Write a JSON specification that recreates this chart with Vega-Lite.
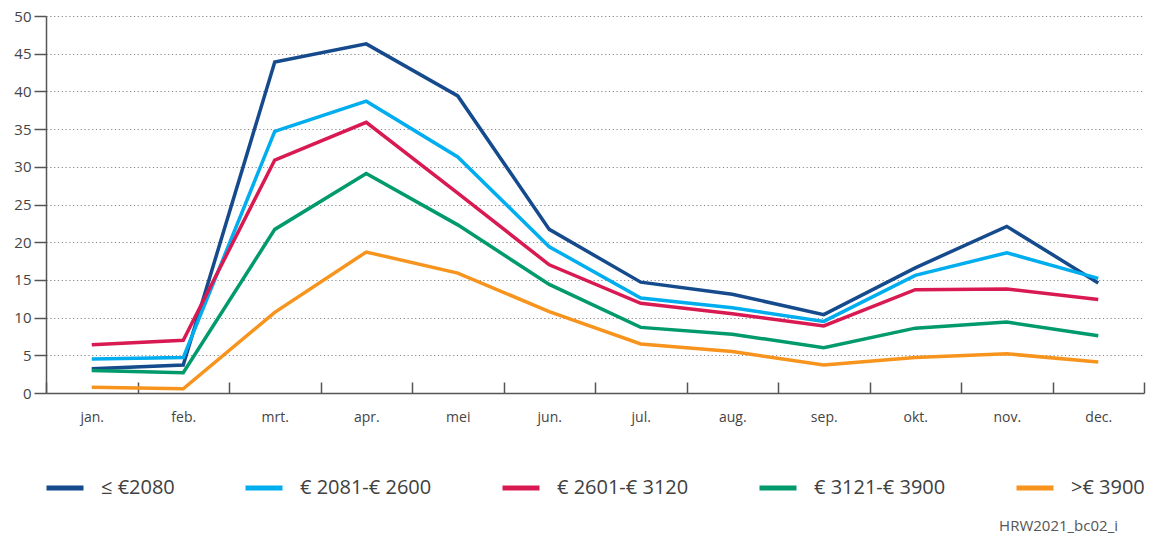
{
  "$schema": "https://vega.github.io/schema/vega-lite/v6.json",
  "width": 1098,
  "height": 377,
  "autosize": {"type": "none"},
  "padding": {"left": 46, "top": 16, "right": 7, "bottom": 143},
  "background": "white",
  "config": {
    "view": {"stroke": null},
    "font": "Open Sans"
  },
  "title": {
    "text": "HRW2021_bc02_i",
    "orient": "bottom",
    "anchor": "end",
    "frame": "group",
    "fontSize": 15,
    "fontWeight": "normal",
    "color": "#555555",
    "offset": 21,
    "dx": -26
  },
  "data": {
    "values": [
      {"maand": "jan.", "groep": "≤ €2080", "waarde": 3.2},
      {"maand": "feb.", "groep": "≤ €2080", "waarde": 3.7},
      {"maand": "mrt.", "groep": "≤ €2080", "waarde": 43.9},
      {"maand": "apr.", "groep": "≤ €2080", "waarde": 46.3},
      {"maand": "mei", "groep": "≤ €2080", "waarde": 39.4},
      {"maand": "jun.", "groep": "≤ €2080", "waarde": 21.7},
      {"maand": "jul.", "groep": "≤ €2080", "waarde": 14.7},
      {"maand": "aug.", "groep": "≤ €2080", "waarde": 13.1},
      {"maand": "sep.", "groep": "≤ €2080", "waarde": 10.4},
      {"maand": "okt.", "groep": "≤ €2080", "waarde": 16.6},
      {"maand": "nov.", "groep": "≤ €2080", "waarde": 22.1},
      {"maand": "dec.", "groep": "≤ €2080", "waarde": 14.6},

      {"maand": "jan.", "groep": "€ 2081-€ 2600", "waarde": 4.5},
      {"maand": "feb.", "groep": "€ 2081-€ 2600", "waarde": 4.7},
      {"maand": "mrt.", "groep": "€ 2081-€ 2600", "waarde": 34.7},
      {"maand": "apr.", "groep": "€ 2081-€ 2600", "waarde": 38.7},
      {"maand": "mei", "groep": "€ 2081-€ 2600", "waarde": 31.3},
      {"maand": "jun.", "groep": "€ 2081-€ 2600", "waarde": 19.4},
      {"maand": "jul.", "groep": "€ 2081-€ 2600", "waarde": 12.6},
      {"maand": "aug.", "groep": "€ 2081-€ 2600", "waarde": 11.3},
      {"maand": "sep.", "groep": "€ 2081-€ 2600", "waarde": 9.5},
      {"maand": "okt.", "groep": "€ 2081-€ 2600", "waarde": 15.6},
      {"maand": "nov.", "groep": "€ 2081-€ 2600", "waarde": 18.6},
      {"maand": "dec.", "groep": "€ 2081-€ 2600", "waarde": 15.2},

      {"maand": "jan.", "groep": "€ 2601-€ 3120", "waarde": 6.4},
      {"maand": "feb.", "groep": "€ 2601-€ 3120", "waarde": 7.0},
      {"maand": "mrt.", "groep": "€ 2601-€ 3120", "waarde": 30.9},
      {"maand": "apr.", "groep": "€ 2601-€ 3120", "waarde": 35.9},
      {"maand": "mei", "groep": "€ 2601-€ 3120", "waarde": 26.5},
      {"maand": "jun.", "groep": "€ 2601-€ 3120", "waarde": 17.0},
      {"maand": "jul.", "groep": "€ 2601-€ 3120", "waarde": 11.9},
      {"maand": "aug.", "groep": "€ 2601-€ 3120", "waarde": 10.5},
      {"maand": "sep.", "groep": "€ 2601-€ 3120", "waarde": 8.9},
      {"maand": "okt.", "groep": "€ 2601-€ 3120", "waarde": 13.7},
      {"maand": "nov.", "groep": "€ 2601-€ 3120", "waarde": 13.8},
      {"maand": "dec.", "groep": "€ 2601-€ 3120", "waarde": 12.4},

      {"maand": "jan.", "groep": "€ 3121-€ 3900", "waarde": 3.0},
      {"maand": "feb.", "groep": "€ 3121-€ 3900", "waarde": 2.7},
      {"maand": "mrt.", "groep": "€ 3121-€ 3900", "waarde": 21.7},
      {"maand": "apr.", "groep": "€ 3121-€ 3900", "waarde": 29.1},
      {"maand": "mei", "groep": "€ 3121-€ 3900", "waarde": 22.3},
      {"maand": "jun.", "groep": "€ 3121-€ 3900", "waarde": 14.4},
      {"maand": "jul.", "groep": "€ 3121-€ 3900", "waarde": 8.7},
      {"maand": "aug.", "groep": "€ 3121-€ 3900", "waarde": 7.8},
      {"maand": "sep.", "groep": "€ 3121-€ 3900", "waarde": 6.0},
      {"maand": "okt.", "groep": "€ 3121-€ 3900", "waarde": 8.6},
      {"maand": "nov.", "groep": "€ 3121-€ 3900", "waarde": 9.4},
      {"maand": "dec.", "groep": "€ 3121-€ 3900", "waarde": 7.6},

      {"maand": "jan.", "groep": ">€ 3900", "waarde": 0.75},
      {"maand": "feb.", "groep": ">€ 3900", "waarde": 0.55},
      {"maand": "mrt.", "groep": ">€ 3900", "waarde": 10.7},
      {"maand": "apr.", "groep": ">€ 3900", "waarde": 18.7},
      {"maand": "mei", "groep": ">€ 3900", "waarde": 15.9},
      {"maand": "jun.", "groep": ">€ 3900", "waarde": 10.8},
      {"maand": "jul.", "groep": ">€ 3900", "waarde": 6.5},
      {"maand": "aug.", "groep": ">€ 3900", "waarde": 5.5},
      {"maand": "sep.", "groep": ">€ 3900", "waarde": 3.7},
      {"maand": "okt.", "groep": ">€ 3900", "waarde": 4.7},
      {"maand": "nov.", "groep": ">€ 3900", "waarde": 5.2},
      {"maand": "dec.", "groep": ">€ 3900", "waarde": 4.1}
    ]
  },
  "mark": {"type": "line", "strokeWidth": 3.5, "strokeJoin": "miter"},
  "encoding": {
    "x": {
      "field": "maand",
      "type": "nominal",
      "sort": ["jan.", "feb.", "mrt.", "apr.", "mei", "jun.", "jul.", "aug.", "sep.", "okt.", "nov.", "dec."],
      "scale": {"paddingInner": 0, "paddingOuter": 0},
      "axis": {
        "title": null,
        "labelAngle": 0,
        "tickBand": "extent",
        "tickSize": -11,
        "tickColor": "#555555",
        "tickWidth": 1.5,
        "domainColor": "#555555",
        "domainWidth": 1.5,
        "labelPadding": 28,
        "labelFontSize": 14,
        "labelColor": "#444444",
        "grid": false
      }
    },
    "y": {
      "field": "waarde",
      "type": "quantitative",
      "scale": {"domain": [0, 50], "nice": false},
      "axis": {
        "title": null,
        "values": [0, 5, 10, 15, 20, 25, 30, 35, 40, 45, 50],
        "tickSize": 12,
        "tickColor": "#555555",
        "tickWidth": 1.5,
        "domainColor": "#555555",
        "domainWidth": 1.5,
        "labelPadding": 3,
        "labelFontSize": 15,
        "labelColor": "#444444",
        "grid": true,
        "gridColor": "#888888",
        "gridDash": [1.2, 2.6],
        "gridWidth": 1.2
      }
    },
    "color": {
      "field": "groep",
      "type": "nominal",
      "sort": null,
      "scale": {
        "domain": ["≤ €2080", "€ 2081-€ 2600", "€ 2601-€ 3120", "€ 3121-€ 3900", ">€ 3900"],
        "range": ["#154a8c", "#00adee", "#d91a52", "#009a6c", "#f7941d"]
      },
      "legend": {
        "title": null,
        "orient": "none",
        "legendX": -2,
        "legendY": 451,
        "direction": "horizontal",
        "columns": 5,
        "symbolType": "stroke",
        "symbolSize": 1369,
        "symbolStrokeWidth": 5,
        "labelFontSize": 20,
        "labelColor": "#404040",
        "labelOffset": 15,
        "columnPadding": 60
      }
    }
  }
}
